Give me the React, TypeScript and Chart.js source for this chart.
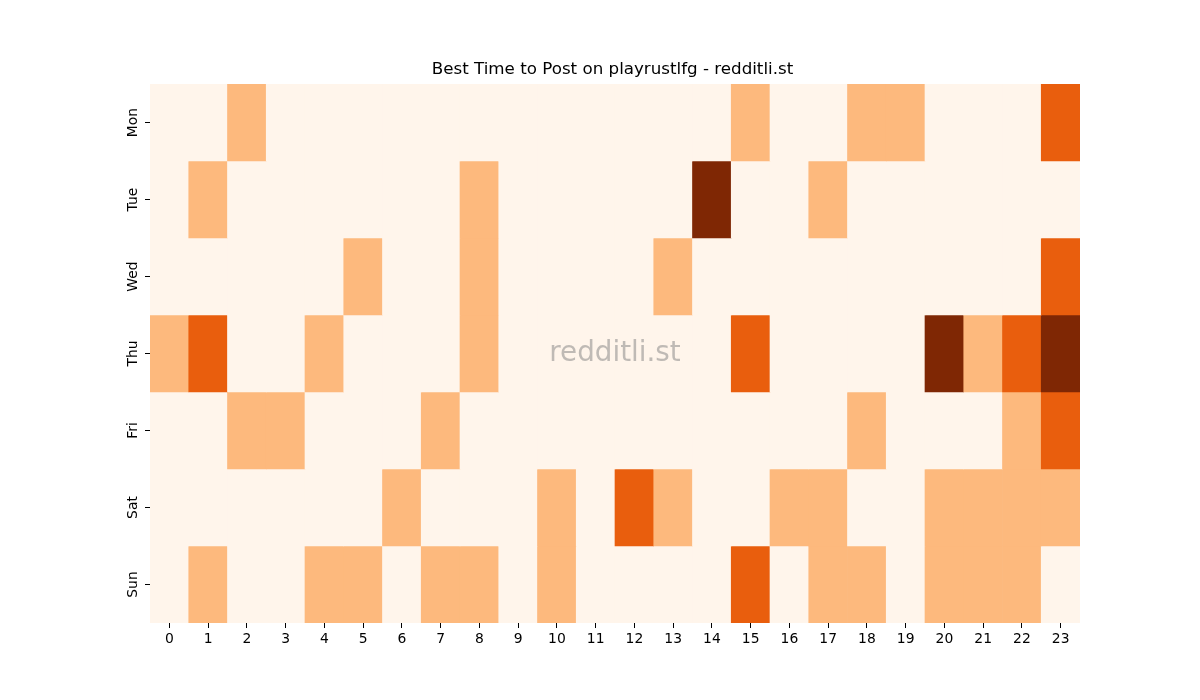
import React, { useEffect, useRef } from "react";
import { Chart, registerables } from "chart.js";

Chart.register(...registerables);

const TITLE = "Best Time to Post on playrustlfg - redditli.st";
const WATERMARK = "redditli.st";
const days = ["Mon", "Tue", "Wed", "Thu", "Fri", "Sat", "Sun"];
const hours = Array.from({ length: 24 }, (_, i) => String(i));

const mon = [0, 0, 1, 0, 0, 0, 0, 0, 0, 0, 0, 0, 0, 0, 0, 1, 0, 0, 1, 1, 0, 0, 0, 2];
const tue = [0, 1, 0, 0, 0, 0, 0, 0, 1, 0, 0, 0, 0, 0, 3, 0, 0, 1, 0, 0, 0, 0, 0, 0];
const wed = [0, 0, 0, 0, 0, 1, 0, 0, 1, 0, 0, 0, 0, 1, 0, 0, 0, 0, 0, 0, 0, 0, 0, 2];
const thu = [1, 2, 0, 0, 1, 0, 0, 0, 1, 0, 0, 0, 0, 0, 0, 2, 0, 0, 0, 0, 3, 1, 2, 3];
const fri = [0, 0, 1, 1, 0, 0, 0, 1, 0, 0, 0, 0, 0, 0, 0, 0, 0, 0, 1, 0, 0, 0, 1, 2];
const sat = [0, 0, 0, 0, 0, 0, 1, 0, 0, 0, 1, 0, 2, 1, 0, 0, 1, 1, 0, 0, 1, 1, 1, 1];
const sun = [0, 1, 0, 0, 1, 1, 0, 1, 1, 0, 1, 0, 0, 0, 0, 2, 0, 1, 1, 0, 1, 1, 1, 0];
const rows = [mon, tue, wed, thu, fri, sat, sun];

// matplotlib "Oranges" colormap anchors
const ORANGES = [
  [255, 245, 235],
  [254, 230, 206],
  [253, 208, 162],
  [253, 174, 107],
  [253, 141, 60],
  [241, 105, 19],
  [217, 72, 1],
  [166, 54, 3],
  [127, 39, 4],
];
function oranges(t: number): string {
  const x = Math.max(0, Math.min(1, t)) * (ORANGES.length - 1);
  const i = Math.min(Math.floor(x), ORANGES.length - 2);
  const f = x - i;
  const a = ORANGES[i];
  const b = ORANGES[i + 1];
  const c = a.map((v, k) => Math.round(v + (b[k] - v) * f));
  return `rgb(${c[0]},${c[1]},${c[2]})`;
}

const FONT = "'DejaVu Sans', sans-serif";

export default function App() {
  const ref = useRef<HTMLCanvasElement | null>(null);

  useEffect(() => {
    if (!ref.current) return;
    const vmax = Math.max(...rows.flat());

    const datasets = rows.map((row, d) => ({
      label: days[d],
      data: row.map(() => [d, d + 1]),
      backgroundColor: row.map((v) => oranges(v / vmax)),
      borderWidth: 0,
      barPercentage: 1,
      categoryPercentage: 1,
    }));

    const overlay = {
      id: "overlay",
      afterDatasetsDraw(chart: any) {
        const { ctx, chartArea } = chart;
        ctx.save();
        ctx.font = `27.8px ${FONT}`;
        ctx.fillStyle = "rgba(128,128,128,0.5)";
        ctx.textAlign = "center";
        ctx.textBaseline = "middle";
        ctx.fillText(
          WATERMARK,
          (chartArea.left + chartArea.right) / 2,
          (chartArea.top + chartArea.bottom) / 2
        );
        ctx.restore();
      },
      afterDraw(chart: any) {
        const { ctx, chartArea } = chart;
        const y = chart.scales.y;
        ctx.save();
        ctx.font = `13.9px ${FONT}`;
        ctx.fillStyle = "#000";
        ctx.textAlign = "center";
        ctx.textBaseline = "middle";
        days.forEach((d, i) => {
          const py = y.getPixelForValue(i + 0.5);
          ctx.save();
          ctx.translate(chartArea.left - 17, py);
          ctx.rotate(-Math.PI / 2);
          ctx.fillText(d, 0, 0);
          ctx.restore();
        });
        ctx.restore();
      },
    };

    const chart = new Chart(ref.current, {
      type: "bar",
      data: { labels: hours, datasets: datasets as any },
      options: {
        animation: false,
        responsive: false,
        devicePixelRatio: 1,
        layout: { padding: { left: 145, right: 120, top: 0, bottom: 49.3 } },
        plugins: {
          legend: { display: false },
          tooltip: { enabled: false },
          title: {
            display: true,
            text: TITLE,
            color: "#000",
            font: { family: FONT, size: 16.7, weight: "normal" as any },
            padding: { top: 60, bottom: 4 },
          },
        },
        scales: {
          x: {
            stacked: true,
            offset: true,
            border: { display: false },
            grid: {
              display: true,
              drawOnChartArea: false,
              drawTicks: true,
              tickLength: 5,
              offset: false,
              color: "#000",
              lineWidth: 1,
            },
            ticks: {
              color: "#000",
              font: { family: FONT, size: 13.9 },
              padding: 3,
              maxRotation: 0,
              autoSkip: false,
            },
          },
          y: {
            type: "linear",
            stacked: false,
            reverse: true,
            min: 0,
            max: 7,
            border: { display: false },
            afterBuildTicks(scale: any) {
              scale.ticks = days.map((_, i) => ({ value: i + 0.5 }));
            },
            grid: {
              display: true,
              drawOnChartArea: false,
              drawTicks: true,
              tickLength: 5,
              color: "#000",
              lineWidth: 1,
            },
            ticks: { display: false },
          },
        },
      },
      plugins: [overlay],
    });

    return () => chart.destroy();
  }, []);

  return (
    <div style={{ position: "fixed", left: 0, top: 0, width: 1200, height: 700, background: "#fff" }}>
      <canvas ref={ref} width={1200} height={700} />
    </div>
  );
}
